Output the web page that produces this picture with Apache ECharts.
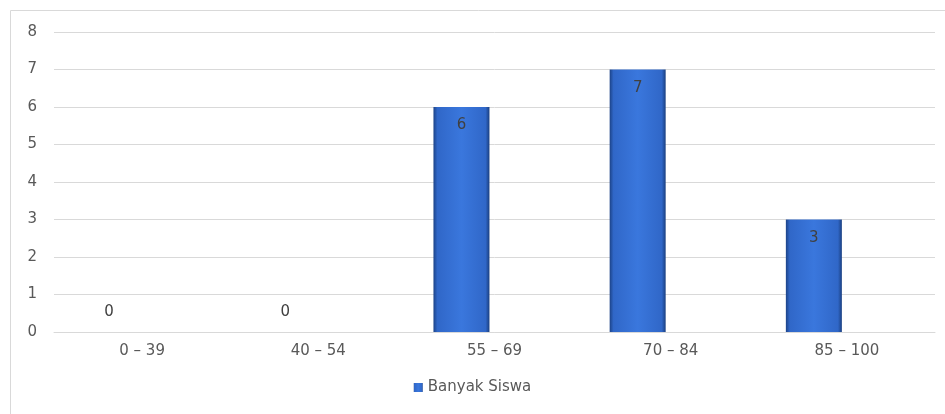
<!DOCTYPE html>
<html>
<head>
<meta charset="utf-8">
<script src="https://cdn.jsdelivr.net/npm/echarts@6/dist/echarts.min.js"></script>
<style>
  html, body { margin: 0; padding: 0; background: #fff; }
  #chart { width: 945px; height: 414px; }
</style>
</head>
<body>
<div id="chart"></div>
<script>
var categories = ['0 – 39', '40 – 54', '55 – 69', '70 – 84', '85 – 100'];
var banyakSiswa = [0, 0, 6, 7, 3];
var yTicks = [0, 1, 2, 3, 4, 5, 6, 7, 8];

var chart = echarts.init(document.getElementById('chart'));

var barColor = new echarts.graphic.LinearGradient(0, 0, 1, 0, [
  { offset: 0, color: '#1c4388' },
  { offset: 0.07, color: '#3067c8' },
  { offset: 0.5, color: '#3a77dd' },
  { offset: 0.93, color: '#3067c8' },
  { offset: 1, color: '#1a3f80' }
]);

// zero values get their label above the axis, others inside the top of the bar
var barData = banyakSiswa.map(function (v) {
  return {
    value: v,
    label: v === 0
      ? { position: 'top', distance: 12 }
      : { position: 'insideTop', distance: 11 }
  };
});

var font = 'DejaVu Sans';

var option = {
  animation: false,
  textStyle: { fontFamily: font },
  graphic: [{
    type: 'rect',
    shape: { x: 10.5, y: 10.5, width: 960, height: 420 },
    style: { fill: 'none', stroke: '#d9d9d9', lineWidth: 1 },
    silent: true
  }],
  grid: { left: 54, right: 10, top: 32, bottom: 82 },
  legend: {
    bottom: 14,
    left: 'center',
    data: ['Banyak Siswa'],
    itemWidth: 9,
    itemHeight: 9,
    itemGap: 5,
    icon: 'rect',
    itemStyle: { borderWidth: 0 },
    textStyle: { color: '#595959', fontSize: 15, fontFamily: font }
  },
  xAxis: {
    type: 'category',
    data: categories,
    axisLine: { lineStyle: { color: '#d9d9d9' } },
    axisTick: { show: false },
    axisLabel: { color: '#595959', fontSize: 15, margin: 12 }
  },
  yAxis: {
    type: 'value',
    min: yTicks[0],
    max: yTicks[yTicks.length - 1],
    interval: 1,
    axisLine: { show: false },
    axisTick: { show: false },
    splitLine: { lineStyle: { color: '#d9d9d9', width: 1 } },
    axisLabel: { color: '#595959', fontSize: 15, margin: 17 }
  },
  series: [{
    name: 'Banyak Siswa',
    type: 'bar',
    barWidth: 56,
    barGap: '18%',
    itemStyle: { color: barColor },
    label: { show: true, color: '#404040', fontSize: 15 },
    data: barData
  }, {
    // empty second slot, keeps the bars left of the category centre
    name: 'kosong',
    type: 'bar',
    barWidth: 56,
    data: categories.map(function () { return null; })
  }]
};

chart.setOption(option);
</script>
</body>
</html>
